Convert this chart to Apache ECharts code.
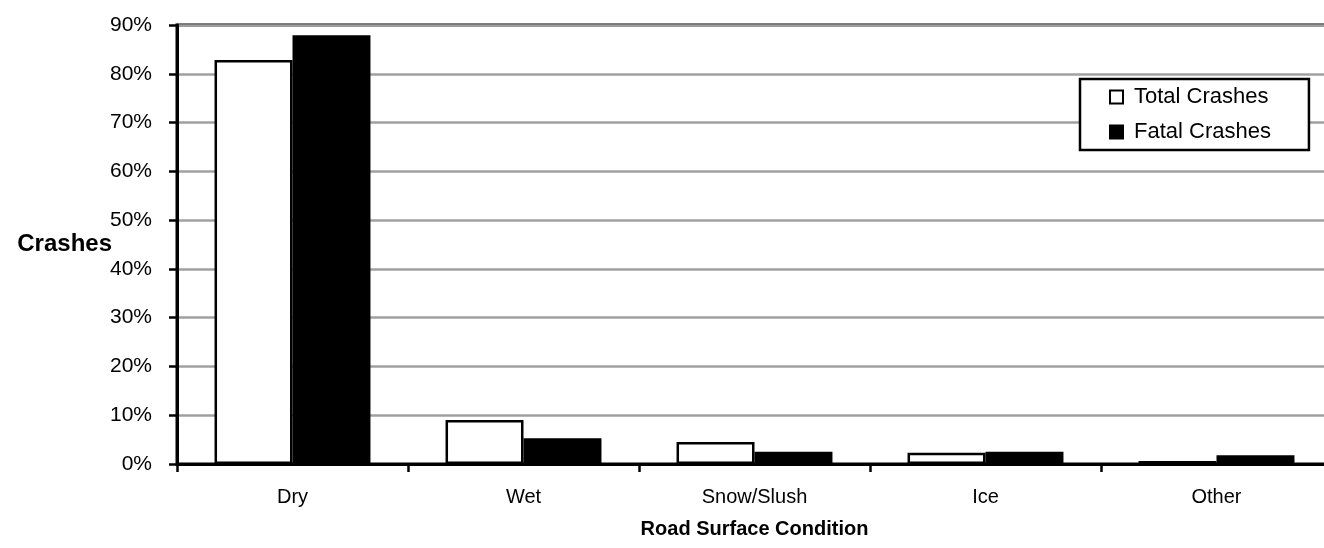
<!DOCTYPE html>
<html>
<head>
<meta charset="utf-8">
<script src="https://cdn.jsdelivr.net/npm/echarts@6/dist/echarts.min.js"></script>
<style>
html,body{margin:0;padding:0;background:#fff;}
#chart{width:1324px;height:548px;}
</style>
</head>
<body>
<div id="chart"></div>
<script>
const categories = ['Dry', 'Wet', 'Snow/Slush', 'Ice', 'Other'];
const totalCrashes = [82.8, 9.0, 4.5, 2.3, 0.6];
const fatalCrashes = [87.9, 5.3, 2.5, 2.5, 1.8];
const seriesNames = ['Total Crashes', 'Fatal Crashes'];
const yTicks = { min: 0, max: 90, interval: 10 };

const FONT = "'Liberation Sans', Arial, sans-serif";
const chart = echarts.init(document.getElementById('chart'), null, { renderer: 'canvas' });

chart.setOption({
  animation: false,
  backgroundColor: '#fff',
  textStyle: { fontFamily: FONT, color: '#000' },
  grid: {
    left: 177, top: 25, width: 1155, height: 439,
    outerBoundsMode: 'none',
    containLabel: false,
    show: true, borderColor: '#000', borderWidth: 3, backgroundColor: 'transparent'
  },
  legend: {
    orient: 'vertical',
    left: 1080, top: 79,
    padding: [7, 38, 7, 29],
    itemWidth: 13, itemHeight: 13,
    itemGap: 13,
    icon: 'rect',
    borderColor: '#000', borderWidth: 2.5,
    backgroundColor: '#fff',
    textStyle: { fontFamily: FONT, fontSize: 22, color: '#000', lineHeight: 20, padding: [0, 0, 0, 6] },
    data: seriesNames
  },
  xAxis: {
    type: 'category',
    data: categories,
    name: 'Road Surface Condition',
    nameLocation: 'middle',
    nameGap: 55,
    nameTextStyle: { fontFamily: FONT, fontSize: 20, fontWeight: 'bold', color: '#000' },
    axisLine: { show: true, lineStyle: { color: '#000', width: 3 } },
    axisTick: { show: true, length: 8, lineStyle: { color: '#000', width: 2.5 } },
    axisLabel: { margin: 23, fontFamily: FONT, fontSize: 20, color: '#000' },
    splitLine: { show: false }
  },
  yAxis: {
    type: 'value',
    min: yTicks.min, max: yTicks.max, interval: yTicks.interval,
    name: 'Crashes',
    nameLocation: 'middle',
    nameRotate: 0,
    nameGap: 65,
    nameMoveOverlap: false,
    nameTextStyle: { fontFamily: FONT, fontSize: 24, fontWeight: 'bold', color: '#000', align: 'right', verticalAlign: 'middle' },
    axisLine: { show: true, lineStyle: { color: '#000', width: 3 } },
    axisTick: { show: true, length: 8, lineStyle: { color: '#000', width: 2.5 } },
    axisLabel: { margin: 25, fontFamily: FONT, fontSize: 21, color: '#000', formatter: v => v + '%' },
    splitLine: { show: true, lineStyle: { color: '#a0a0a0', width: 2.5 } }
  },
  series: [
    {
      name: seriesNames[0],
      type: 'bar',
      data: totalCrashes,
      barGap: '0%',
      barCategoryGap: '32.5%',
      itemStyle: { color: '#fff', borderColor: '#000', borderWidth: 2.5 }
    },
    {
      name: seriesNames[1],
      type: 'bar',
      data: fatalCrashes,
      barGap: '0%',
      barCategoryGap: '32.5%',
      itemStyle: { color: '#000', borderColor: '#000', borderWidth: 2.5 }
    }
  ]
});
</script>
</body>
</html>
